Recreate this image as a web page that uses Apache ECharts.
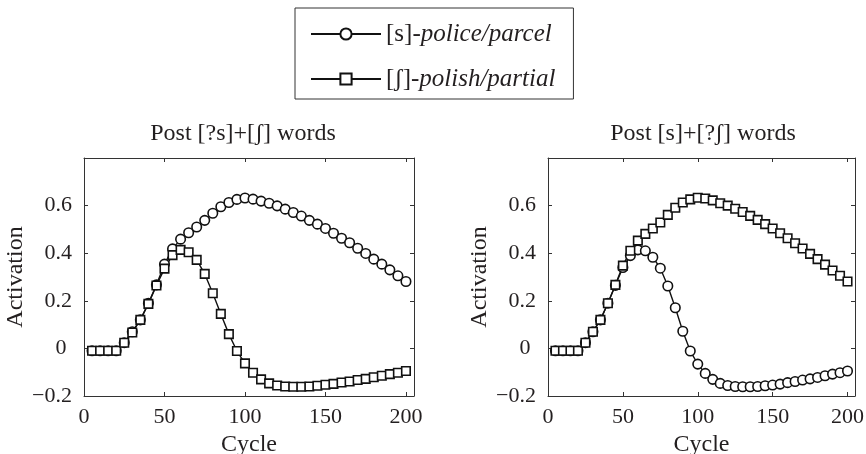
<!DOCTYPE html>
<html>
<head>
<meta charset="utf-8">
<script src="https://cdn.jsdelivr.net/npm/echarts@6/dist/echarts.min.js"></script>
<style>
html, body { margin: 0; padding: 0; background: #fff; }
#main { width: 866px; height: 454px; }
</style>
</head>
<body>
<div id="main"></div>
<script>
// simulation cycles (x)
const cycles = [5, 10, 15, 20, 25, 30, 35, 40, 45, 50, 55, 60, 65, 70, 75, 80, 85, 90, 95, 100,
    105, 110, 115, 120, 125, 130, 135, 140, 145, 150, 155, 160, 165, 170, 175, 180, 185, 190, 195, 200];

// left panel: Post [?s]+[ʃ] words
const leftPolice = [-0.01, -0.01, -0.01, -0.01, 0.024, 0.07, 0.12, 0.19, 0.267, 0.354, 0.418, 0.459, 0.486, 0.51,
    0.538, 0.568, 0.595, 0.613, 0.626, 0.632, 0.627, 0.619, 0.61, 0.599, 0.585, 0.571, 0.556, 0.538, 0.522, 0.504,
    0.484, 0.463, 0.444, 0.421, 0.399, 0.375, 0.354, 0.33, 0.305, 0.281];
const leftPolish = [-0.01, -0.01, -0.01, -0.01, 0.024, 0.067, 0.12, 0.187, 0.264, 0.335, 0.392, 0.414, 0.404, 0.372,
    0.313, 0.232, 0.145, 0.06, -0.011, -0.063, -0.102, -0.13, -0.147, -0.156, -0.16, -0.161, -0.161, -0.16, -0.157,
    -0.153, -0.149, -0.143, -0.139, -0.133, -0.128, -0.121, -0.115, -0.108, -0.102, -0.095];

// right panel: Post [s]+[?ʃ] words
const rightPolice = [-0.01, -0.01, -0.01, -0.01, 0.024, 0.07, 0.12, 0.19, 0.265, 0.34, 0.39, 0.414, 0.41, 0.383,
    0.337, 0.262, 0.171, 0.072, -0.011, -0.066, -0.105, -0.13, -0.147, -0.156, -0.16, -0.161, -0.161, -0.16, -0.157,
    -0.154, -0.15, -0.144, -0.139, -0.133, -0.128, -0.122, -0.115, -0.108, -0.102, -0.095];
const rightPolish = [-0.01, -0.01, -0.01, -0.01, 0.024, 0.07, 0.12, 0.19, 0.267, 0.348, 0.41, 0.453, 0.481, 0.504,
    0.529, 0.561, 0.591, 0.613, 0.626, 0.633, 0.63, 0.622, 0.61, 0.6, 0.587, 0.573, 0.557, 0.54, 0.522, 0.504,
    0.484, 0.463, 0.442, 0.42, 0.397, 0.375, 0.352, 0.327, 0.305, 0.281];

const titles = ['Post [?s]+[\u0283] words', 'Post [s]+[?\u0283] words'];
const nameS = '[s]-police/parcel';
const nameSh = '[\u0283]-polish/partial';
const xTicks = [0, 50, 100, 150, 200];

const FONT = '"Liberation Serif", "DejaVu Serif", serif';
const INK = '#231f20';

const pairs = (ys) => cycles.map((c, i) => [c, ys[i]]);

const yFmt = (v) => {
    if (v > 0.7) return '';
    if (Math.abs(v) < 1e-9) return '0 ';
    return (v < 0 ? '\u2212' : '') + Math.abs(v).toFixed(1);
};
const xFmt = (v) => xTicks.indexOf(Math.round(v)) >= 0 && Math.abs(v - Math.round(v)) < 1e-9 ? String(v) : '';

const grids = [
    { left: 84, top: 158, width: 330, height: 238, outerBoundsMode: 'none' },
    { left: 548, top: 158, width: 307, height: 238, outerBoundsMode: 'none' }
];
const titleX = [238, 698];

const lineAxis = { show: true, onZero: false, lineStyle: { color: '#333', width: 1 } };
const tick = { show: true, inside: true, length: 4, lineStyle: { color: '#333', width: 1 } };

const xAxes = [];
const yAxes = [];
grids.forEach((g, gi) => {
    xAxes.push({
        gridIndex: gi, type: 'value', position: 'bottom', min: 0, max: 205, interval: 50,
        axisLine: lineAxis, axisTick: tick, splitLine: { show: false },
        axisLabel: { fontFamily: FONT, fontSize: 22, color: INK, margin: 10, formatter: xFmt },
        name: 'Cycle', nameLocation: 'middle', nameGap: 34,
        nameTextStyle: { fontFamily: FONT, fontSize: 24, color: INK }
    });
    xAxes.push({
        gridIndex: gi, type: 'value', position: 'top', min: 0, max: 205, interval: 50,
        axisLine: lineAxis, axisTick: tick, splitLine: { show: false }, axisLabel: { show: false }
    });
    yAxes.push({
        gridIndex: gi, type: 'value', position: 'left', min: -0.2, max: 0.8, interval: 0.2,
        axisLine: lineAxis, axisTick: tick, splitLine: { show: false },
        axisLabel: { fontFamily: FONT, fontSize: 22, color: INK, margin: 12, formatter: yFmt },
        name: 'Activation', nameLocation: 'middle', nameGap: 53,
        nameTextStyle: { fontFamily: FONT, fontSize: 24, color: INK }
    });
    yAxes.push({
        gridIndex: gi, type: 'value', position: 'right', min: -0.2, max: 0.8, interval: 0.2,
        axisLine: lineAxis, axisTick: tick, splitLine: { show: false }, axisLabel: { show: false }
    });
});

const mk = (name, symbol, size, ys, gi) => ({
    name: name, type: 'line', xAxisIndex: gi * 2, yAxisIndex: gi * 2,
    data: pairs(ys), symbol: symbol, symbolSize: size, showAllSymbol: true,
    lineStyle: { color: '#111', width: 1.4 },
    itemStyle: { color: '#fff', borderColor: '#111', borderWidth: 1.6 },
    animation: false
});

const option = {
    backgroundColor: '#fff',
    animation: false,
    title: titles.map((t, i) => ({
        text: t,
        left: titleX[i],
        top: 117,
        textAlign: 'center',
        textStyle: { fontFamily: FONT, fontSize: 24, fontWeight: 'normal', color: INK }
    })),
    legend: {
        data: [nameS, nameSh],
        orient: 'vertical',
        left: 295, top: 8,
        padding: [13, 18, 7, 15],
        itemWidth: 70, itemHeight: 14, itemGap: 19,
        borderColor: '#333', borderWidth: 1,
        backgroundColor: '#fff',
        formatter: (n) => n === nameS ? '{n|[s]-}{i|police/parcel}' : '{n|[\u0283]-}{i|polish/partial}',
        textStyle: {
            fontFamily: FONT, fontSize: 25, color: INK, lineHeight: 26,
            rich: {
                n: { fontFamily: FONT, fontSize: 25, color: INK, lineHeight: 26 },
                i: { fontFamily: FONT, fontSize: 25, color: INK, fontStyle: 'italic', lineHeight: 26 }
            }
        }
    },
    grid: grids,
    xAxis: xAxes,
    yAxis: yAxes,
    series: [
        mk(nameS, 'circle', 9.5, leftPolice, 0),
        mk(nameSh, 'rect', 8.5, leftPolish, 0),
        mk(nameS, 'circle', 9.5, rightPolice, 1),
        mk(nameSh, 'rect', 8.5, rightPolish, 1)
    ]
};

const myChart = echarts.init(document.getElementById('main'));
myChart.setOption(option);
</script>
</body>
</html>
